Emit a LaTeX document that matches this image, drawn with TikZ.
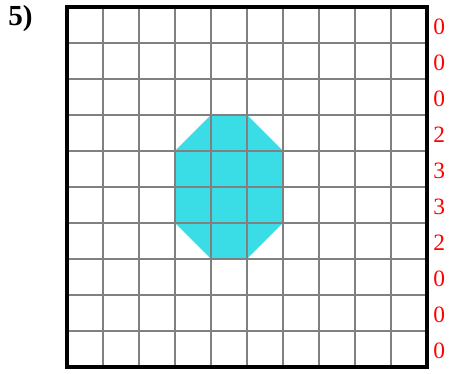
\documentclass[tikz,border=0pt]{standalone}
\usepackage{fontspec}
\setmainfont{Liberation Serif}
\usetikzlibrary{positioning}
\definecolor{shapecyan}{RGB}{58,220,230}
\definecolor{gridgray}{RGB}{128,128,128}
\tikzset{gridline/.style={draw=gridgray,line width=1.5pt},
         frameline/.style={draw=black,line width=2.4pt},
         rowcount/.style={text=red,inner sep=0pt,
                          font=\fontsize{18.5}{20}\selectfont},
         tasklabel/.style={inner sep=0pt,
                           font=\bfseries\fontsize{23}{25}\selectfont}}

\begin{document}
\begin{tikzpicture}[x=1cm,y=1cm]
  \useasboundingbox (-1.861,-0.167) rectangle (11.139,10.194);
  % shaded figure
  \fill[shapecyan] (4,7) -- (5,7) -- (6,6) -- (6,4) -- (5,3)
                   -- (4,3) -- (3,4) -- (3,6) -- cycle;
  % grid
  \foreach \i in {1,...,9} {
    \draw[gridline] (\i,0) -- (\i,10);
    \draw[gridline] (0,\i) -- (10,\i);
  }
  \draw[frameline] (0,0) rectangle (10,10);
  % counts per row
  \foreach \n [count=\r] in {0,0,0,2,3,3,2,0,0,0}
    \node[rowcount] (count\r) at (10.34,10.46-\r) {\n};
  \node[tasklabel] (task) at (-1.29,9.67) {5)};
\end{tikzpicture}
\end{document}
